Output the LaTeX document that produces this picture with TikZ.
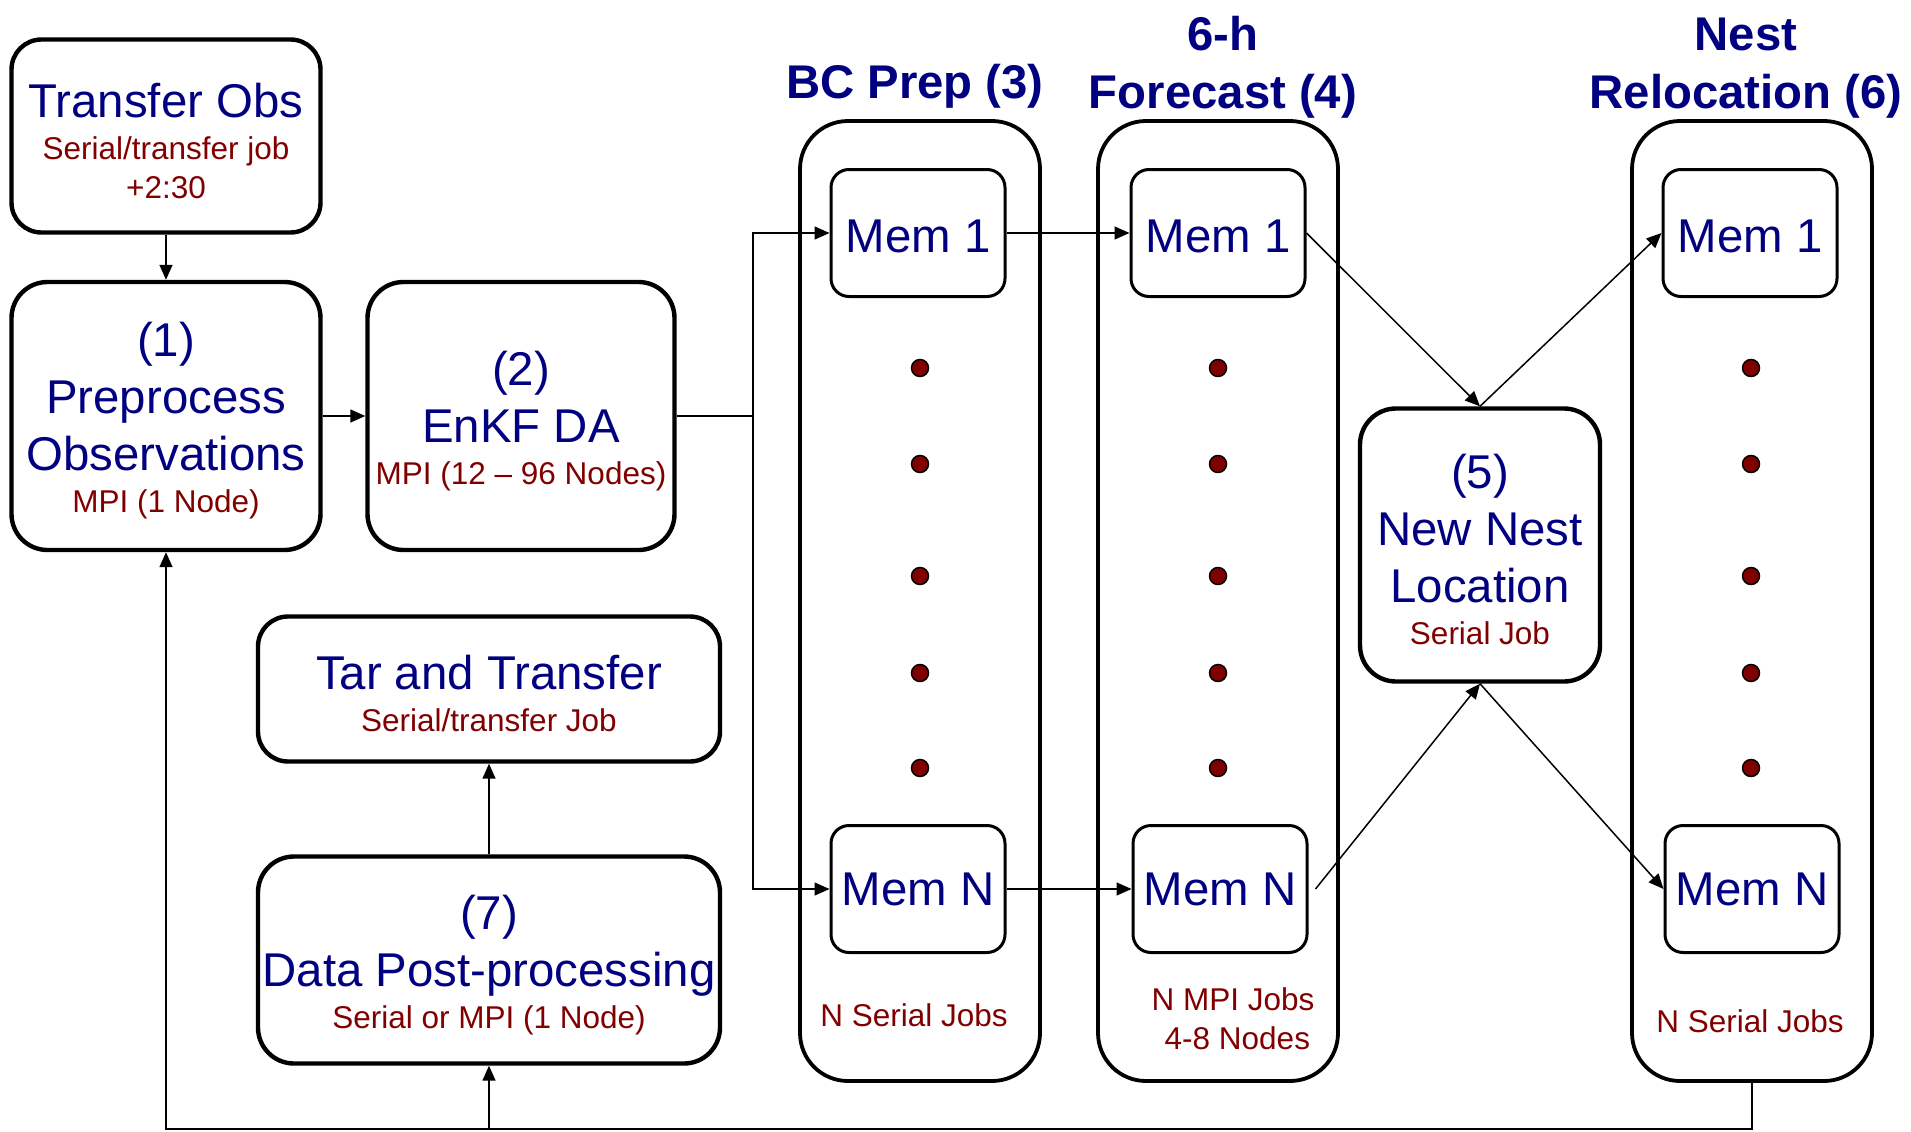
\documentclass[tikz,border=0pt]{standalone}
\usepackage{fontspec}
\setmainfont{Liberation Sans}
\usetikzlibrary{arrows.meta}

\definecolor{jobblue}{RGB}{0,0,128}
\definecolor{jobred}{RGB}{128,0,0}

\newcommand\bluef{\fontsize{47.4}{57}\selectfont}
\newcommand\redf{\fontsize{31.5}{39}\selectfont\color{jobred}}
\newcommand\titlef{\fontsize{47.3}{58.5}\selectfont\bfseries}
\newcommand\topstrut{\rule{0pt}{44pt}}

\tikzset{
  jobbox/.style={draw, line width=4.4pt, rounded corners=36pt, align=center,
    font=\bluef, text=jobblue, inner sep=0pt},
  stagebox/.style={draw, line width=3.8pt, rounded corners=48pt,
    minimum width=240pt, minimum height=960pt, inner sep=0pt},
  membox/.style={draw, line width=3pt, rounded corners=18pt, fill=white,
    minimum width=174pt, minimum height=127pt, inner sep=0pt,
    font=\bluef, text=jobblue},
  stagetitle/.style={font=\titlef, text=jobblue, align=center, anchor=south},
  joblabel/.style={font=\redf, text=jobred, align=center},
  flow/.style={-{Triangle[length=15pt,width=13pt]}, line width=1.5pt},
}

\begin{document}
\begin{tikzpicture}[x=1pt, y=-1pt]
\useasboundingbox (0,0) rectangle (1911,1132);

% Stage containers (3), (4), (6)
\node[stagebox] (bc) at (920,601) {};
\node[stagebox] (fc) at (1218,601) {};
\node[stagebox] (nest) at (1752,601) {};

% Stage titles
\node[stagetitle] (bctitle) at (915,112) {BC Prep (3)};
\node[stagetitle] (fctitle) at (1223,122) {6-h\\Forecast (4)};
\node[stagetitle] (nesttitle) at (1746,122) {Nest\\Relocation (6)};

% Single jobs
\node[jobbox, rounded corners=30pt, minimum width=309pt, minimum height=193pt] (tobs) at (166,136)
  {\topstrut Transfer Obs\\[-15pt]{\redf Serial/transfer job}\\[-18pt]{\redf +2:30}};
\node[jobbox, minimum width=309pt, minimum height=268pt] (prep) at (166,416)
  {\topstrut(1)\\Preprocess\\Observations\\[-15pt]{\redf MPI (1 Node)}};
\node[jobbox, minimum width=307pt, minimum height=268pt] (enkf) at (521,416)
  {\topstrut(2)\\EnKF DA\\[-15pt]{\redf MPI (12 -- 96 Nodes)}};
\node[jobbox, rounded corners=30pt, minimum width=462pt, minimum height=145pt] (tar) at (489,689)
  {\topstrut Tar and Transfer\\[-15pt]{\redf Serial/transfer Job}};
\node[jobbox, minimum width=462pt, minimum height=207pt] (post) at (489,960)
  {\topstrut(7)\\Data Post-processing\\[-15pt]{\redf Serial or MPI (1 Node)}};
\node[jobbox, minimum width=240pt, minimum height=273pt] (nnl) at (1480,545)
  {\topstrut(5)\\New Nest\\Location\\[-15pt]{\redf Serial Job}};

% Ensemble members
\node[membox] (bc1) at (918,233) {\rule{0pt}{40pt}Mem 1};
\node[membox] (bcN) at (918,889) {Mem N};
\node[membox] (fc1) at (1218,233) {\rule{0pt}{40pt}Mem 1};
\node[membox] (fcN) at (1220,889) {Mem N};
\node[membox] (nest1) at (1750,233) {\rule{0pt}{40pt}Mem 1};
\node[membox] (nestN) at (1752,889) {Mem N};

% Ellipsis dots between Mem 1 and Mem N
\foreach \col in {920,1218,1751} {
  \foreach \row in {368,464,576,673,768} {
    \filldraw[fill=jobred, line width=1.5pt] (\col,\row) circle (8.5pt);
  }
}

% Job counts
\node[joblabel] (bcjobs) at (914,1015) {N Serial Jobs};
\node[joblabel] (fcjobs) at (1233,1019) {N MPI Jobs\\~4-8 Nodes};
\node[joblabel] (nestjobs) at (1750,1021) {N Serial Jobs};

% Connectors
\draw[flow] (tobs) -- (prep);
\draw[flow] (prep) -- (enkf);
\coordinate (split) at (753,416);
\draw[line width=1.5pt] (enkf.east) -- (split);
\draw[flow] (split) |- (bc1.west);
\draw[flow] (split) |- (bcN.west);
\draw[flow] (bc1) -- (fc1);
\draw[flow] (bcN) -- (fcN);
\draw[flow] (fc1.east) -- (nnl.north);
\draw[flow] ([xshift=7pt]fcN.east) -- (nnl.south);
\draw[flow] (nnl.north) -- (nest1.west);
\draw[flow] (nnl.south) -- (nestN.west);
\draw[flow] (post) -- (tar);

% Feedback to next cycle
\coordinate (fbcorner) at (nest.south |- 0,1129);
\draw[flow] (nest.south) -- (fbcorner) -| (prep.south);
\draw[flow] (post.south |- fbcorner) -- (post.south);

\end{tikzpicture}
\end{document}
